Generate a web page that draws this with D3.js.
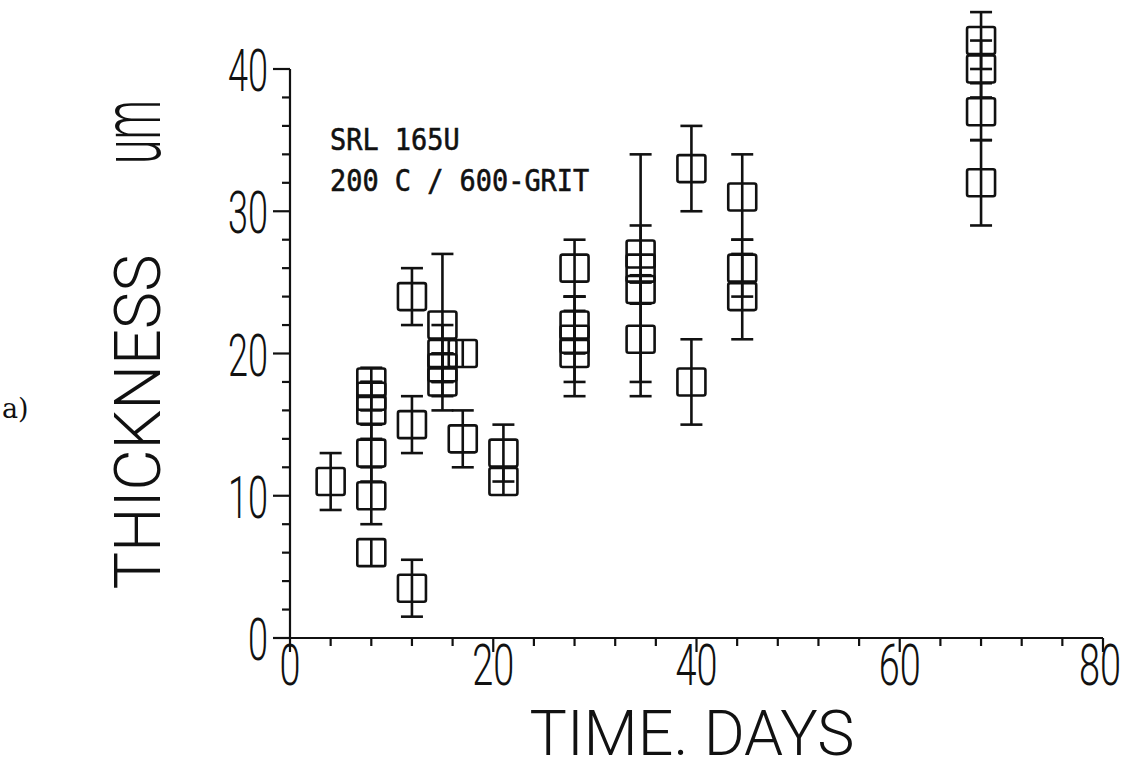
<!DOCTYPE html>
<html>
<head>
<meta charset="utf-8">
<script src="https://cdn.jsdelivr.net/npm/d3@7"></script>
<style>
  html, body { margin: 0; padding: 0; background: #fff; }
  svg { display: block; }
</style>
</head>
<body>
<svg id="chart" width="1143" height="769"></svg>
<script>
// ---- data ----
const days      = [4, 8, 8, 8, 8, 8, 8, 12, 12, 12, 15, 15, 15, 15, 17, 17, 21, 21, 28, 28, 28, 28, 34.5, 34.5, 34.5, 34.5, 39.5, 39.5, 44.5, 44.5, 44.5, 68, 68, 68, 68];
const thickness = [11, 18, 17, 16, 13, 10, 6, 24, 15, 3.5, 22, 20, 19, 18, 20, 14, 13, 11, 26, 22, 21, 20, 27, 26, 24.5, 21, 33, 18, 31, 26, 24, 42, 40, 37, 32];
const errors    = [2, 1, 1, 2, 2, 2, 0.5, 2, 2, 2, 5, 2, 1, 2, 0.5, 2, 2, 0.5, 2, 2, 3, 3, 2, 8, 1, 4, 3, 3, 3, 2, 3, 2, 2, 2, 3];

const xTickLabels = [0, 20, 40, 60, 80];
const yTickLabels = [0, 10, 20, 30, 40];
const xMinorStep = 4;
const yMinorStep = 2;
const xTitle = "TIME. DAYS";
const yTitleMain = "THICKNESS";
const yTitleUnit = "um";
const noteLines = ["SRL 165U", "200 C / 600-GRIT"];
const panelLabel = "a)";

// ---- layout ----
const svg = d3.select("#chart");
const ink = "#111";
const x = d3.scaleLinear().domain([0, 80]).range([290, 1103]);
const y = d3.scaleLinear().domain([0, 40]).range([638, 69]);

const plotFont = "Roboto, 'DejaVu Sans', sans-serif";

// axes lines
const g = svg.append("g").attr("stroke", ink).attr("stroke-width", 2.2).attr("fill", "none");
g.append("line").attr("x1", x(0)).attr("x2", x(0)).attr("y1", y(40)).attr("y2", y(0));
g.append("line").attr("x1", x(0)).attr("x2", x(80)).attr("y1", y(0)).attr("y2", y(0));

// y ticks
const yMinor = d3.range(0, 40 + 0.001, yMinorStep);
g.selectAll(".ytick").data(yMinor).join("line")
  .attr("x1", d => x(0))
  .attr("x2", d => x(0) - (d % 10 === 0 ? 17 : 8))
  .attr("y1", d => y(d)).attr("y2", d => y(d));
// x ticks
const xMinor = d3.range(0, 80 + 0.001, xMinorStep);
g.selectAll(".xtick").data(xMinor).join("line")
  .attr("x1", d => x(d)).attr("x2", d => x(d))
  .attr("y1", y(0))
  .attr("y2", d => y(0) + (d % 20 === 0 ? 14 : 8));

// tick labels
svg.selectAll(".xlab").data(xTickLabels).join("text")
  .attr("x", d => x(d) - (d === 80 ? 3 : 0)).attr("y", y(0) + 47)
  .attr("text-anchor", "middle")
  .attr("font-family", plotFont).attr("font-weight", 300)
  .attr("font-size", 58).attr("fill", ink)
  .attr("textLength", d => String(d).length * 21)
  .attr("lengthAdjust", "spacingAndGlyphs")
  .text(d => d);

svg.selectAll(".ylab").data(yTickLabels).join("text")
  .attr("x", d => x(0) - 22).attr("y", d => y(d) + 22)
  .attr("text-anchor", "end")
  .attr("font-family", plotFont).attr("font-weight", 300)
  .attr("font-size", 60).attr("fill", ink)
  .attr("textLength", d => String(d).length * 20)
  .attr("lengthAdjust", "spacingAndGlyphs")
  .text(d => d);

// axis titles
svg.append("text")
  .attr("x", 692).attr("y", 755)
  .attr("text-anchor", "middle")
  .attr("font-family", plotFont).attr("font-weight", 300)
  .attr("font-size", 63).attr("fill", ink)
  .attr("textLength", 325).attr("lengthAdjust", "spacingAndGlyphs")
  .text(xTitle);

svg.append("text")
  .attr("transform", "translate(160,422) rotate(-90)")
  .attr("text-anchor", "middle")
  .attr("font-family", plotFont).attr("font-weight", 300)
  .attr("font-size", 64).attr("fill", ink)
  .attr("textLength", 335).attr("lengthAdjust", "spacingAndGlyphs")
  .text(yTitleMain);

svg.append("text")
  .attr("transform", "translate(160,132) rotate(-90)")
  .attr("text-anchor", "middle")
  .attr("font-family", plotFont).attr("font-weight", 300)
  .attr("font-size", 84).attr("fill", ink)
  .attr("textLength", 64).attr("lengthAdjust", "spacingAndGlyphs")
  .text(yTitleUnit);

// annotation
svg.selectAll(".note").data(noteLines).join("text")
  .attr("x", 330).attr("y", (d, i) => 150 + i * 41)
  .attr("font-family", "'DejaVu Sans Mono', monospace")
  .attr("font-size", 30).attr("fill", ink)
  .attr("stroke", ink).attr("stroke-width", 0.6)
  .attr("textLength", d => d.length * 16.2)
  .attr("lengthAdjust", "spacingAndGlyphs")
  .text(d => d);

svg.append("text")
  .attr("x", 2).attr("y", 418)
  .attr("font-family", "'DejaVu Serif', 'Liberation Serif', serif")
  .attr("font-size", 27).attr("fill", ink)
  .text(panelLabel);

// ---- data marks ----
const pts = days.map((d, i) => ({ d, t: thickness[i], e: errors[i] }));
const boxW = 28, boxH = 27, capW = 22;
const m = svg.append("g").attr("stroke", ink).attr("stroke-width", 2.6).attr("fill", "none");

m.selectAll(".eb").data(pts).join("line")
  .attr("x1", p => x(p.d)).attr("x2", p => x(p.d))
  .attr("y1", p => y(p.t + Math.max(p.e, 1)))
  .attr("y2", p => y(p.t - Math.max(p.e, 1)));

const caps = pts.filter(p => p.e >= 1).flatMap(p => [
  { d: p.d, v: p.t + p.e }, { d: p.d, v: p.t - p.e }
]);
m.selectAll(".cap").data(caps).join("line")
  .attr("x1", c => x(c.d) - capW / 2).attr("x2", c => x(c.d) + capW / 2)
  .attr("y1", c => y(c.v)).attr("y2", c => y(c.v));

m.selectAll(".box").data(pts).join("rect")
  .attr("x", p => x(p.d) - boxW / 2).attr("y", p => y(p.t) - boxH / 2)
  .attr("width", boxW).attr("height", boxH)
  .attr("rx", 2);
</script>
</body>
</html>
